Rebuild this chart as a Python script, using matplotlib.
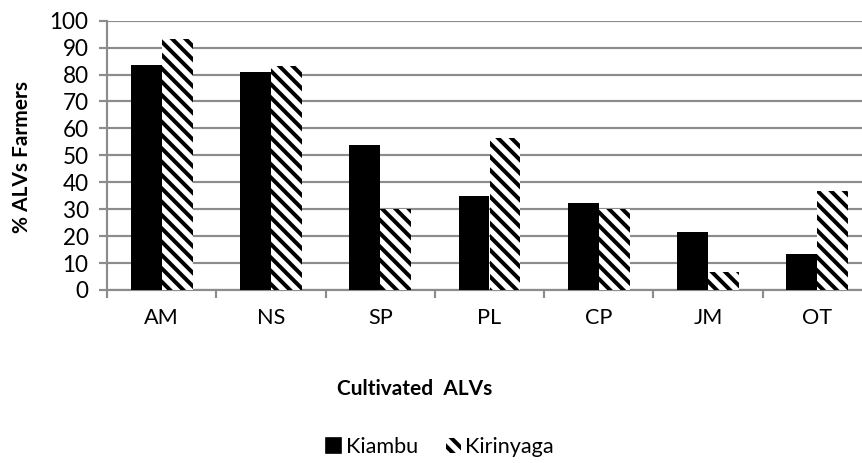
import numpy as np
import matplotlib
matplotlib.use("Agg")
import matplotlib.pyplot as plt
from matplotlib.patches import Patch

crops = ["AM", "NS", "SP", "PL", "CP", "JM", "OT"]
kiambu = [83.7, 80.9, 53.8, 34.9, 32.2, 21.4, 13.3]
kirinyaga = [93.2, 83.1, 29.9, 56.5, 30.0, 6.5, 36.7]
yticks = list(range(0, 101, 10))

DPI = 120
plt.rcParams["font.family"] = ["Lato", "DejaVu Sans"]
plt.rcParams["hatch.linewidth"] = 2.4

fig = plt.figure(figsize=(862 / DPI, 463 / DPI), dpi=DPI)
fig.set_facecolor("white")
# plot area runs a bit past the right edge, like the cropped original
ax = fig.add_axes([107 / 862, (463 - 290) / 463, 765 / 862, 269.3 / 463])

x = np.arange(len(crops))
w = 0.283
ax.bar(x - w / 2, kiambu, w, color="black", zorder=3, label="Kiambu")
ax.bar(x + w / 2, kirinyaga, w, facecolor="white", edgecolor="black",
       hatch="\\\\\\", linewidth=0, zorder=3, label="Kirinyaga")

ax.set_xlim(-0.5, len(crops) - 0.5)
ax.set_ylim(0, 100)
ax.set_yticks(yticks)
grey = "#8c8c8c"
ax.yaxis.grid(True, color=grey, linewidth=1.3, zorder=0)
ax.set_axisbelow(True)

for s in ["top", "right"]:
    ax.spines[s].set_visible(False)
ax.spines["left"].set_color(grey)
ax.spines["bottom"].set_color(grey)
ax.spines["left"].set_linewidth(1.3)
ax.spines["bottom"].set_linewidth(1.3)

ax.set_xticks(x)
ax.set_xticklabels(crops, fontsize=13)
ax.tick_params(axis="x", which="major", length=0, pad=11)
ax.set_xticks(np.arange(-0.5, len(crops), 1), minor=True)
ax.tick_params(axis="x", which="minor", length=5, color=grey, width=1.3)
ax.tick_params(axis="y", length=5, color=grey, width=1.3, labelsize=13.5, pad=6)

fig.text(22 / 862, 1 - 157 / 463, "% ALVs Farmers", rotation=90, fontsize=12.5,
         fontweight="bold", ha="center", va="center")
fig.text(415 / 862, 1 - 389 / 463, "Cultivated  ALVs", fontsize=12.5,
         fontweight="bold", ha="center", va="center")

handles = [Patch(facecolor="black", edgecolor="black"),
           Patch(facecolor="white", edgecolor="black", hatch="\\\\\\", linewidth=0)]
fig.legend(handles, ["Kiambu", "Kirinyaga"], loc="center",
           bbox_to_anchor=(440 / 862, 1 - 447 / 463), ncol=2, frameon=False,
           fontsize=13, handlelength=0.7, handleheight=0.7, handletextpad=0.2,
           columnspacing=1.3)

fig.savefig("out.png", dpi=DPI, facecolor="white")
